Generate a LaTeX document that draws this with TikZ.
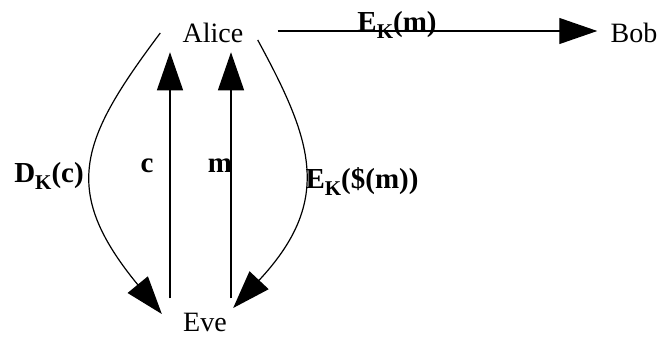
\documentclass[tikz,border=0pt]{standalone}
\usepackage{fontspec}
\setmainfont{Liberation Serif}
\usetikzlibrary{arrows.meta}

\newcommand{\keysub}[1]{\raisebox{-3.5pt}{\fontsize{10.5}{12}\selectfont #1}}

\begin{document}
\begin{tikzpicture}[
			x=0.5pt, y=-0.5pt,
			font=\fontsize{14}{16}\selectfont,
			party/.style={inner sep=3pt},
			lbl/.style={anchor=base, inner sep=0pt, font=\fontsize{14.5}{16}\selectfont\bfseries},
			arr/.style={-{Triangle[length=19pt,width=13pt]}, line width=0.6pt}
			]
			\useasboundingbox (0,0) rectangle (664,337);

			\node[party] (alice) at (213,33) {Alice};
			\node[party] (bob) at (634,33) {Bob};
			\node[party] (eve) at (205,322) {Eve};

			\draw[arr, shorten <=14pt, shorten >=3.5pt] ([yshift=1pt]alice.east) -- ([yshift=1pt]bob.west);
			\draw[arr, shorten <=4pt, shorten >=1.5pt] ([xshift=-17.5pt]eve.north) -- ([xshift=-17.5pt]eve.north |- alice.south);
			\draw[arr, shorten <=4pt, shorten >=1.5pt] ([xshift=13pt]eve.north) -- ([xshift=13pt]eve.north |- alice.south);
			\draw[arr] ([xshift=-8pt]alice.west) .. controls (80,140) and (60,190) .. ([xshift=-7.5pt,yshift=4pt]eve.west);
			\draw[arr] ([xshift=4pt,yshift=-3.5pt]alice.east) .. controls (312,140) and (334,200) .. ([yshift=7pt]eve.east);

			\node[lbl] (ekm) at (397,32) {E\keysub{K}(m)};
			\node[lbl] (dkc) at (49,182) {D\keysub{K}(c)};
			\node[lbl] (c) at (147,172) {c};
			\node[lbl] (m) at (220,172) {m};
			\node[lbl] (eksm) at (362,188) {E\keysub{K}(\$(m))};
		\end{tikzpicture}
\end{document}
